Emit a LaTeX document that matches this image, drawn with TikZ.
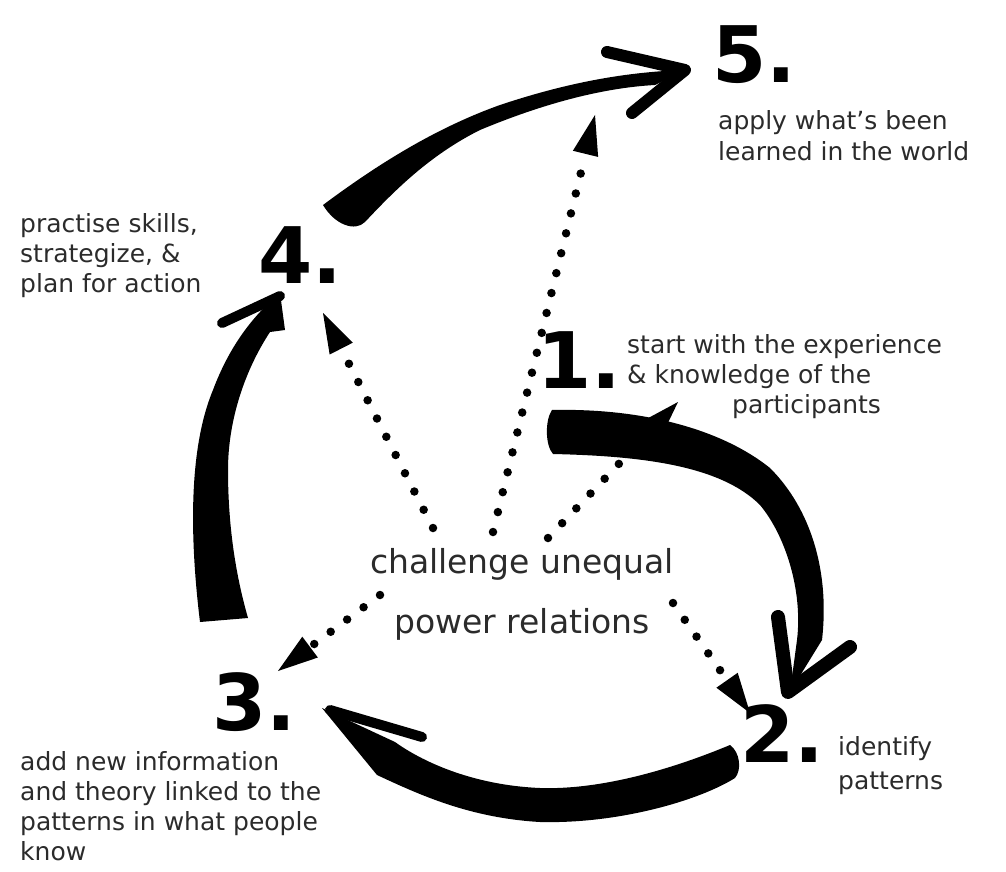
\documentclass[tikz,border=0pt]{standalone}
\usepackage{fontspec}
\setmainfont{DejaVu Sans}
\usetikzlibrary{arrows.meta}
\definecolor{ink}{HTML}{2B2B2B}
\begin{document}
\begin{tikzpicture}[x=1pt,y=-1pt,
  numlab/.style={anchor=base west,inner sep=0pt,font=\fontsize{78}{78}\selectfont\bfseries},
  note/.style={anchor=base west,inner sep=0pt,align=left,text=ink,font=\fontsize{25}{30}\selectfont},
  dotarrow/.style={line width=8.5pt,line cap=round,dash pattern=on 0pt off 20.5pt,
    -{Triangle[length=40pt,width=26pt,line width=0pt]}},
  barb/.style={line width=12pt,line cap=round,line join=round}]
  \fill[white] (0,0) rectangle (1006,872);
  \useasboundingbox (0,0) rectangle (1006,872);

  \coordinate (s4) at (433,528);
  \coordinate (s5) at (493,532);
  \coordinate (s1) at (548,538);
  \coordinate (s3) at (380,595);
  \coordinate (s2) at (673,603);
  \coordinate (t4) at (323,313);
  \coordinate (t5) at (595,115);
  \coordinate (t1) at (678,402);
  \coordinate (t3) at (278,671);
  \coordinate (t2) at (750,713);
  \foreach \a/\b in {s4/t4,s5/t5,s1/t1,s3/t3,s2/t2}
    \draw[dotarrow] (\a) -- (\b);

  % 1 -> 2
  \fill (552,410) .. controls (640,408) and (720,428) .. (770,468)
    .. controls (810,508) and (830,570) .. (822,640) -- (790,692) -- (797,640)
    .. controls (803,590) and (785,535) .. (760,505)
    .. controls (720,465) and (640,456) .. (553,454)
    .. controls (545,445) and (545,420) .. cycle;
  \draw[barb,line width=14pt] (778,617) -- (788,692) -- (850,647);
  % 2 -> 3
  \fill (322,708) -- (377,775) .. controls (420,795) and (470,818) .. (540,822)
    .. controls (620,824) and (700,800) .. (735,778)
    .. controls (742,770) and (740,752) .. (730,745)
    .. controls (670,770) and (600,790) .. (540,788)
    .. controls (470,785) and (420,760) .. (395,742) -- cycle;
  \draw[barb,line width=10pt] (330,710) -- (422,737);
  % 3 -> 4
  \fill (200,622) .. controls (190,540) and (188,450) .. (213,390)
    .. controls (228,350) and (250,318) .. (280,293) -- (285,330) -- (270,332)
    .. controls (245,370) and (228,420) .. (228,470)
    .. controls (228,540) and (240,590) .. (248,618) -- cycle;
  \draw[barb,line width=10pt] (280,296) -- (222,323);
  % 4 -> 5
  \fill (323,205) .. controls (370,170) and (430,130) .. (500,105)
    .. controls (560,85) and (620,72) .. (685,70) -- (655,85)
    .. controls (600,88) and (540,105) .. (480,130)
    .. controls (430,155) and (395,190) .. (365,222)
    .. controls (355,232) and (335,225) .. cycle;
  \draw[barb] (607,52) -- (685,70) -- (632,113);

  \node[numlab] (n5) at (712,83) {5.};
  \node[numlab] (n4) at (258,283) {4.};
  \node[numlab] (n1) at (537,388) {1.};
  \node[numlab] (n3) at (212,730) {3.};
  \node[numlab] (n2) at (740,762) {2.};

  \node[note] (l5) at (718,160) {apply what's been\\learned in the world};
  \node[note] (l4) at (20,292) {practise skills,\\strategize, \&\\plan for action};
  \node[note] (l1) at (627,413) {start with the experience\\\& knowledge of the\\\hspace*{105pt}participants};
  \node[note] (l3) at (20,860) {add new information\\and theory linked to the\\patterns in what people\\know};
  \node[note,font=\fontsize{25}{34}\selectfont] (l2) at (838,789) {identify\\patterns};
  \node[anchor=base,inner sep=0pt,align=center,text=ink,font=\fontsize{33}{60}\selectfont]
    (core) at (522,633) {challenge unequal\\power relations};
\end{tikzpicture}
\end{document}
